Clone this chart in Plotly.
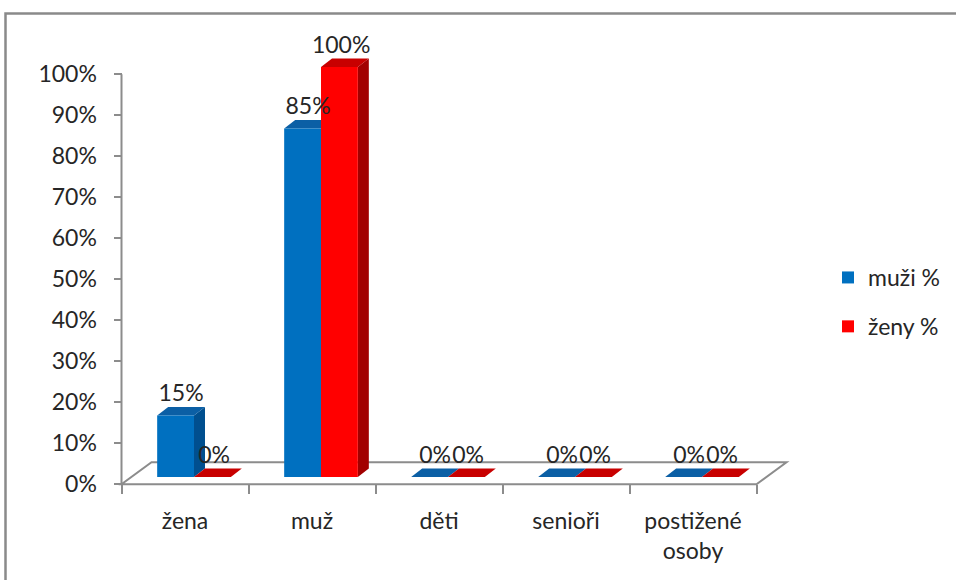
import plotly.graph_objects as go

# ---------------- data ----------------
categories = ["žena", "muž", "děti", "senioři", "postižené<br>osoby"]
muzi_pct = [0.15, 0.85, 0.0, 0.0, 0.0]
zeny_pct = [0.00, 1.00, 0.0, 0.0, 0.0]
series_names = ["muži %", "ženy %"]
y_ticks = [0.0, 0.1, 0.2, 0.3, 0.4, 0.5, 0.6, 0.7, 0.8, 0.9, 1.0]

# ---------------- geometry / style ----------------
W, H = 956, 580
L, R, T, B = 110, 156, 30, 80
pw, ph = W - L - R, H - T - B
axis_px, zero_py = 121.5, 484.3       # pixel of y-axis line and of 0 % (front plane)
px_x, px_y = 127.0, 410.0             # pixels per category / per 100 %
xmin = -0.5 - (axis_px - L) / px_x
xmax = xmin + pw / px_x
ymin = -((H - B) - zero_py) / px_y
ymax = ymin + ph / px_y

bar_shift_x, bar_shift_y = 9.0 / px_x, 7.3 / px_y      # bars stand mid-depth
depth_x, depth_y = 11.0 / px_x, 8.5 / px_y              # bar depth (3D)
floor_dx, floor_dy = 30.0 / px_x, 22.0 / px_y            # floor depth
bargap = 0.42
bw = (1 - bargap) / 2

FONT = "Lato, 'Open Sans', sans-serif"
FS = 23
TXT = "#262626"
GRAY = "#8c8c8c"
front = ["#0070C0", "#FF0000"]
top_c = ["#0B5FA5", "#C80000"]
side_c = ["#004F8F", "#A20000"]

fig = go.Figure()
series = [muzi_pct, zeny_pct]
xs = list(range(len(categories)))
for j, vals in enumerate(series):
    fig.add_trace(go.Bar(
        x=xs, y=vals, name=series_names[j], xaxis="x2", yaxis="y2",
        marker=dict(color=front[j], line=dict(width=0)),
        legendgroup=series_names[j], hoverinfo="skip"))

# data labels above the top faces
for j, vals in enumerate(series):
    off = -bw / 2 if j == 0 else bw / 2
    fig.add_trace(go.Scatter(
        x=[i + off + depth_x / 2 - (0.03 if j == 1 else 0.0) for i in xs], y=[v + depth_y for v in vals],
        mode="text", text=[f"{round(v*100)}%" for v in vals],
        textposition="top center", textfont=dict(family=FONT, size=FS, color=TXT),
        xaxis="x2", yaxis="y2", showlegend=False, hoverinfo="skip", cliponaxis=False))

shapes = []
def px2paper_x(p):
    return (p - L) / pw
def px2paper_y(p):
    return (H - B - p) / ph
# frame around chart
shapes.append(dict(type="rect", xref="paper", yref="paper",
                   x0=px2paper_x(5.5), x1=px2paper_x(980), y0=px2paper_y(600), y1=px2paper_y(13.5),
                   line=dict(color="#8a8a8a", width=2.5), fillcolor="rgba(0,0,0,0)", layer="below"))
# floor
n = len(categories)
fx0, fx1 = -0.5, n - 0.5
shapes.append(dict(type="path", xref="x", yref="y", layer="below",
                   path=f"M{fx0},0 L{fx1},0 L{fx1+floor_dx},{floor_dy} L{fx0+floor_dx},{floor_dy} Z",
                   fillcolor="white", line=dict(color=GRAY, width=2)))
# y-axis line 0..100 %
shapes.append(dict(type="line", xref="x", yref="y", layer="below",
                   x0=-0.5, x1=-0.5, y0=0, y1=y_ticks[-1], line=dict(color=GRAY, width=2)))
# 3D faces of bars
for j, vals in enumerate(series):
    for i, v in zip(xs, vals):
        x0 = i - bw if j == 0 else i
        x1 = x0 + bw
        shapes.append(dict(type="path", xref="x2", yref="y2", layer="below",
                           path=f"M{x1},0 L{x1},{v} L{x1+depth_x},{v+depth_y} L{x1+depth_x},{depth_y} Z",
                           fillcolor=side_c[j], line=dict(width=0)))
        shapes.append(dict(type="path", xref="x2", yref="y2", layer="below",
                           path=f"M{x0},{v} L{x1},{v} L{x1+depth_x},{v+depth_y} L{x0+depth_x},{v+depth_y} Z",
                           fillcolor=top_c[j], line=dict(width=0)))

fig.update_layout(
    width=W, height=H, margin=dict(l=L, r=R, t=T, b=B, autoexpand=False),
    paper_bgcolor="white", plot_bgcolor="rgba(0,0,0,0)",
    barmode="group", bargap=bargap, bargroupgap=0,
    font=dict(family=FONT, size=FS, color=TXT),
    shapes=shapes,
    xaxis=dict(range=[xmin, xmax], showgrid=False, zeroline=False, showline=False,
               tickvals=xs, ticktext=categories, ticks="",
               anchor="free", position=((H - B) - zero_py) / ph,
               minor=dict(tickvals=[k - 0.5 for k in range(n + 1)], ticks="outside",
                          ticklen=9, tickwidth=2, tickcolor=GRAY),
               ticklabelstandoff=21, tickfont=dict(family=FONT, size=FS, color=TXT)),
    yaxis=dict(range=[ymin, ymax], showgrid=False, zeroline=False, showline=False,
               tickvals=y_ticks, tickformat=".0%", ticks="outside", ticklen=8,
               tickwidth=2, tickcolor=GRAY, anchor="free", position=(axis_px - L) / pw,
               ticklabelstandoff=12, tickfont=dict(family=FONT, size=FS, color=TXT)),
    xaxis2=dict(range=[xmin - bar_shift_x, xmax - bar_shift_x], overlaying="x", visible=False,
                anchor="y2"),
    yaxis2=dict(range=[ymin - bar_shift_y, ymax - bar_shift_y], overlaying="y", visible=False,
                anchor="x2"),
    legend=dict(xref="container", yref="container", x=828 / W, y=1 - 302 / H,
                xanchor="left", yanchor="middle", traceorder="grouped", tracegroupgap=16,
                font=dict(family=FONT, size=FS, color=TXT), bgcolor="rgba(0,0,0,0)"),
    showlegend=True,
)

fig.write_html("out.html", config={"displayModeBar": False},
               post_script="document.body.style.margin='0';")
